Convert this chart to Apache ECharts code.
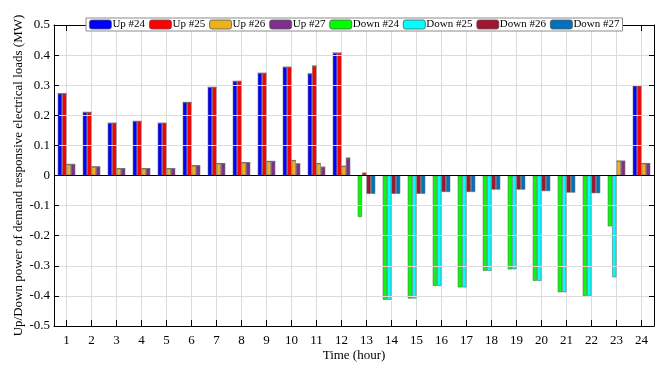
<!DOCTYPE html>
<html>
<head>
<meta charset="utf-8">
<script src="https://cdn.jsdelivr.net/npm/echarts@6/dist/echarts.min.js"></script>
<style>
  html, body { margin: 0; padding: 0; background: #fff; }
  #chart { width: 670px; height: 365px; }
</style>
</head>
<body>
<div id="chart"></div>
<script>
// Hours of the day
const hours = ['1','2','3','4','5','6','7','8','9','10','11','12','13','14','15','16','17','18','19','20','21','22','23','24'];

// Up power of demand responsive loads (MW), buses #24-#27
const up24 = [0.272, 0.210, 0.174, 0.180, 0.174, 0.243, 0.293, 0.313, 0.340, 0.360, 0.338, 0.407, 0, 0, 0, 0, 0, 0, 0, 0, 0, 0, 0, 0.298];
const up25 = [0.272, 0.210, 0.174, 0.180, 0.174, 0.243, 0.293, 0.313, 0.340, 0.360, 0.364, 0.407, 0.008, 0, 0, 0, 0, 0, 0, 0, 0, 0, 0, 0.298];
const up26 = [0.037, 0.029, 0.023, 0.023, 0.023, 0.033, 0.040, 0.043, 0.047, 0.050, 0.040, 0.031, 0, 0, 0, 0, 0, 0, 0, 0, 0, 0, 0.048, 0.040];
const up27 = [0.037, 0.029, 0.023, 0.023, 0.023, 0.033, 0.040, 0.043, 0.047, 0.039, 0.028, 0.058, 0, 0, 0, 0, 0, 0, 0, 0, 0, 0, 0.048, 0.040];

// Down power of demand responsive loads (MW), buses #24-#27
const down24 = [0, 0, 0, 0, 0, 0, 0, 0, 0, 0, 0, 0, -0.138, -0.413, -0.409, -0.367, -0.372, -0.317, -0.312, -0.350, -0.388, -0.400, -0.169, 0];
const down25 = [0, 0, 0, 0, 0, 0, 0, 0, 0, 0, 0, 0, 0, -0.413, -0.409, -0.367, -0.372, -0.317, -0.312, -0.350, -0.388, -0.400, -0.338, 0];
const down26 = [0, 0, 0, 0, 0, 0, 0, 0, 0, 0, 0, 0, -0.061, -0.061, -0.061, -0.055, -0.055, -0.047, -0.047, -0.052, -0.057, -0.059, 0, 0];
const down27 = [0, 0, 0, 0, 0, 0, 0, 0, 0, 0, 0, 0, -0.061, -0.061, -0.061, -0.055, -0.055, -0.047, -0.047, -0.052, -0.057, -0.059, 0, 0];

const FONT = "'Liberation Serif', 'Times New Roman', serif";

// Plot frame (px)
const PLOT = { left: 54, right: 16, top: 25, bottom: 39 };
const halfBand = (670 - PLOT.left - PLOT.right) / hours.length / 2;

// Each bus shares one slot in the group: up above zero, down below
const seriesDefs = [
  { name: 'Up #24',   data: up24,   color: '#0000ff', slot: 's1' },
  { name: 'Up #25',   data: up25,   color: '#ff0000', slot: 's2' },
  { name: 'Up #26',   data: up26,   color: '#edb120', slot: 's3' },
  { name: 'Up #27',   data: up27,   color: '#7e2f8e', slot: 's4' },
  { name: 'Down #24', data: down24, color: '#00ff00', slot: 's1' },
  { name: 'Down #25', data: down25, color: '#00ffff', slot: 's2' },
  { name: 'Down #26', data: down26, color: '#a2142f', slot: 's3' },
  { name: 'Down #27', data: down27, color: '#0072bd', slot: 's4' }
];

const series = seriesDefs.map((d, i) => {
  const s = {
    name: d.name,
    type: 'bar',
    xAxisIndex: 0,
    yAxisIndex: 0,
    stack: d.slot,
    data: d.data,
    barWidth: 4.4,
    barGap: '0%',
    itemStyle: { color: d.color, borderColor: 'rgba(90,90,90,0.75)', borderWidth: 0.7 },
    emphasis: { disabled: true }
  };
  if (i === 0) {
    // zero baseline
    s.markLine = {
      silent: true,
      symbol: 'none',
      label: { show: false },
      lineStyle: { color: '#000', width: 1, type: 'solid' },
      data: [{ yAxis: 0 }]
    };
  }
  return s;
});

const chart = echarts.init(document.getElementById('chart'), null, { renderer: 'canvas' });
chart.setOption({
  animation: false,
  backgroundColor: '#fff',
  textStyle: { fontFamily: FONT },
  grid: [
    { left: PLOT.left, right: PLOT.right, top: PLOT.top, bottom: PLOT.bottom, containLabel: false, outerBoundsMode: 'none' },
    // vertical grid lines through the hour centres
    { left: PLOT.left + halfBand, right: PLOT.right + halfBand, top: PLOT.top, bottom: PLOT.bottom, containLabel: false, outerBoundsMode: 'none' }
  ],
  legend: {
    top: 18,
    left: 86,
    padding: [1, 3, 1, 3],
    itemGap: 4,
    itemWidth: 22,
    itemHeight: 9,
    backgroundColor: '#fff',
    borderColor: '#8c8c8c',
    borderWidth: 1,
    z: 20,
    selectedMode: false,
    textStyle: { fontFamily: FONT, fontSize: 11, color: '#000', padding: [0, 0, 0, -4] },
    itemStyle: { borderColor: '#555', borderWidth: 0.8 },
    data: seriesDefs.map(d => d.name)
  },
  xAxis: [
    {
      type: 'category',
      gridIndex: 0,
      data: hours,
      position: 'bottom',
      name: 'Time (hour)',
      nameLocation: 'middle',
      nameGap: 23,
      nameMoveOverlap: false,
      nameTextStyle: { fontFamily: FONT, fontSize: 13, color: '#000' },
      axisLine: { onZero: false, lineStyle: { color: '#000', width: 1 } },
      axisTick: { show: true, inside: true, alignWithLabel: true, length: 6, lineStyle: { color: '#000' } },
      axisLabel: { fontFamily: FONT, fontSize: 13, color: '#000', margin: 8 },
      splitLine: { show: false },
      z: 5
    },
    {
      type: 'category',
      gridIndex: 0,
      data: hours,
      position: 'top',
      axisLine: { onZero: false, lineStyle: { color: '#000', width: 1 } },
      axisTick: { show: true, inside: true, alignWithLabel: true, length: 6, lineStyle: { color: '#000' } },
      axisLabel: { show: false },
      splitLine: { show: false },
      z: 5
    },
    {
      type: 'value',
      gridIndex: 1,
      min: 1,
      max: 24,
      interval: 1,
      axisLine: { show: false },
      axisTick: { show: false },
      axisLabel: { show: false },
      splitLine: { show: true, lineStyle: { color: '#dcdcdc', width: 1 } },
      z: 0
    }
  ],
  yAxis: [
    {
      type: 'value',
      gridIndex: 0,
      min: -0.5,
      max: 0.5,
      interval: 0.1,
      position: 'left',
      name: 'Up/Down power of demand responsive electrical loads (MW)',
      nameLocation: 'middle',
      nameGap: 29,
      nameMoveOverlap: false,
      nameTextStyle: { fontFamily: FONT, fontSize: 13, color: '#000' },
      axisLine: { show: true, onZero: false, lineStyle: { color: '#000', width: 1 } },
      axisTick: { show: true, inside: true, length: 5, lineStyle: { color: '#000' } },
      axisLabel: { fontFamily: FONT, fontSize: 13, color: '#000', margin: 4,
        formatter: v => (Math.abs(v) < 1e-9 ? '0' : (Math.round(v * 10) / 10).toString()) },
      splitLine: { show: true, lineStyle: { color: '#dcdcdc', width: 1 } },
      z: 5
    },
    {
      type: 'value',
      gridIndex: 0,
      min: -0.5,
      max: 0.5,
      interval: 0.1,
      position: 'right',
      axisLine: { show: true, onZero: false, lineStyle: { color: '#000', width: 1 } },
      axisTick: { show: true, inside: true, length: 5, lineStyle: { color: '#000' } },
      axisLabel: { show: false },
      splitLine: { show: false },
      z: 5
    },
    {
      type: 'value',
      gridIndex: 1,
      min: -0.5,
      max: 0.5,
      show: false
    }
  ],
  series: series
});
</script>
</body>
</html>
